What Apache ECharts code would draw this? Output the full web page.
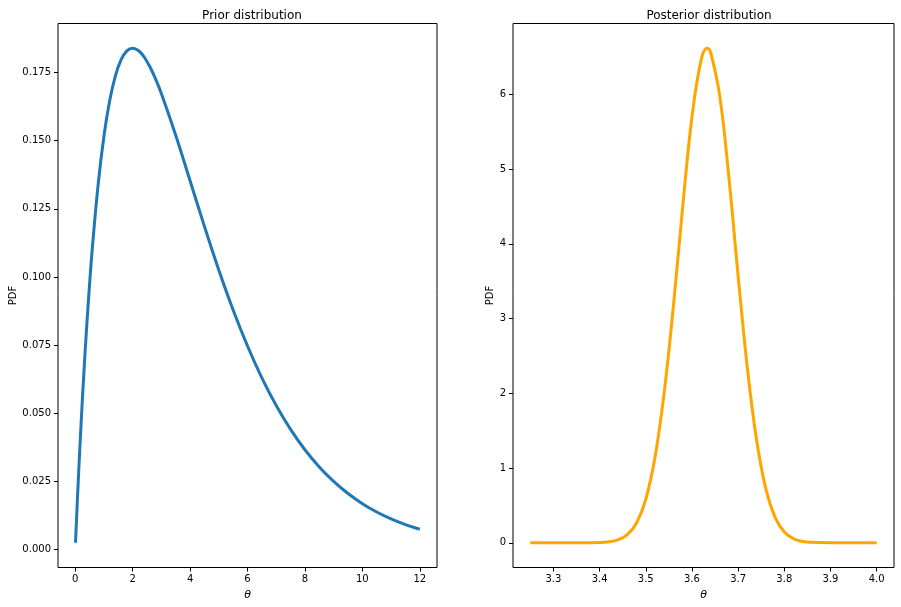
<!DOCTYPE html>
<html><head><meta charset="utf-8">
<script src="https://cdn.jsdelivr.net/npm/echarts@6/dist/echarts.min.js"></script>
<style>html,body{margin:0;padding:0;background:#fff}#c{width:901px;height:607px}</style>
</head><body><div id="c"></div>
<script>
// Prior distribution (theta, PDF)
var priorTheta = [0.01,0.1,0.2,0.3,0.4,0.5,0.6,0.8,1.0,1.2,1.4,1.6,1.8,2.0,2.2,2.4,2.6,2.8,3.0,3.5,4.0,4.5,5.0,5.5,6.0,6.5,7.0,7.5,8.0,8.5,9.0,9.5,10,10.5,11,11.5,12];
var priorPdf = [0.00249,0.02378,0.04524,0.06455,0.08187,0.09735,0.11112,0.13406,0.15163,0.16464,0.17381,0.17973,0.18295,0.18394,0.18308,0.18072,0.17715,0.17262,0.16735,0.15204,0.13534,0.11858,0.10260,0.08790,0.07468,0.06301,0.05285,0.04410,0.03663,0.03031,0.02500,0.02055,0.01684,0.01378,0.01124,0.00915,0.00744];
// Posterior distribution (theta, PDF)
var postTheta = [3.25,3.30,3.35,3.40,3.42,3.44,3.46,3.48,3.50,3.52,3.54,3.56,3.58,3.60,3.62,3.633,3.64,3.66,3.68,3.70,3.72,3.74,3.76,3.78,3.80,3.82,3.84,3.86,3.90,3.95,4.0];
var postPdf = [0,0,0.0001,0.0038,0.013,0.0395,0.108,0.265,0.581,1.143,2.015,3.178,4.496,5.696,6.464,6.616,6.572,5.985,4.884,3.569,2.336,1.371,0.720,0.339,0.143,0.054,0.018,0.0055,0.0003,0,0];
// Tick labels
var priorXTicks = [0,2,4,6,8,10,12];
var priorYTicks = [0,0.025,0.05,0.075,0.1,0.125,0.15,0.175];
var postXTicks = [3.3,3.4,3.5,3.6,3.7,3.8,3.9,4.0];
var postYTicks = [0,1,2,3,4,5,6];

function zip(a,b){return a.map(function(v,i){return [v,b[i]];});}
var font = 'DejaVu Sans';
function xAxis(idx,min,max,ticks,fmt){
  return {type:'value',gridIndex:idx,position:'bottom',min:min,max:max,name:'θ',nameLocation:'middle',nameGap:19,
    nameTextStyle:{fontFamily:font,fontSize:11,fontStyle:'italic',color:'#000'},
    splitLine:{show:false},axisLine:{show:false,onZero:false},
    axisTick:{show:true,inside:false,length:4,customValues:ticks,lineStyle:{color:'#000'}},
    axisLabel:{customValues:ticks,margin:7,fontFamily:font,fontSize:10,color:'#000',formatter:fmt}};
}
function yAxis(idx,min,max,ticks,fmt,gap){
  return {type:'value',gridIndex:idx,position:'left',min:min,max:max,name:'PDF',nameLocation:'middle',nameGap:gap,
    nameTextStyle:{fontFamily:font,fontSize:10,color:'#000'},
    splitLine:{show:false},axisLine:{show:false,onZero:false},
    axisTick:{show:true,inside:false,length:4,customValues:ticks,lineStyle:{color:'#000'}},
    axisLabel:{customValues:ticks,margin:7,fontFamily:font,fontSize:10,color:'#000',formatter:fmt}};
}
var chart = echarts.init(document.getElementById('c'),null,{renderer:'canvas'});
chart.setOption({
  backgroundColor:'#fff',
  animation:false,
  title:[
    {text:'Prior distribution',left:247,top:5,textAlign:'center',textStyle:{fontFamily:font,fontSize:12,fontWeight:'normal',color:'#000'}},
    {text:'Posterior distribution',left:704,top:5,textAlign:'center',textStyle:{fontFamily:font,fontSize:12,fontWeight:'normal',color:'#000'}}
  ],
  grid:[
    {left:58,top:23.5,width:379,height:544,show:true,borderColor:'#000',borderWidth:1,containLabel:false},
    {left:513,top:23.5,width:381,height:544,show:true,borderColor:'#000',borderWidth:1,containLabel:false}
  ],
  xAxis:[
    xAxis(0,-0.5995,12.5995,priorXTicks,function(v){return String(Math.round(v));}),
    xAxis(1,3.2125,4.0375,postXTicks,function(v){return v.toFixed(1);})
  ],
  yAxis:[
    yAxis(0,-0.00658,0.19301,priorYTicks,function(v){return v.toFixed(3);},40),
    yAxis(1,-0.3308,6.9468,postYTicks,function(v){return String(Math.round(v));},18)
  ],
  series:[
    {type:'line',xAxisIndex:0,yAxisIndex:0,data:zip(priorTheta,priorPdf),showSymbol:false,smooth:0.4,
      lineStyle:{color:'#1f77b4',width:3},itemStyle:{color:'#1f77b4'}},
    {type:'line',xAxisIndex:1,yAxisIndex:1,data:zip(postTheta,postPdf),showSymbol:false,smooth:0.4,
      lineStyle:{color:'#ffa500',width:3},itemStyle:{color:'#ffa500'}}
  ]
});
</script></body></html>
